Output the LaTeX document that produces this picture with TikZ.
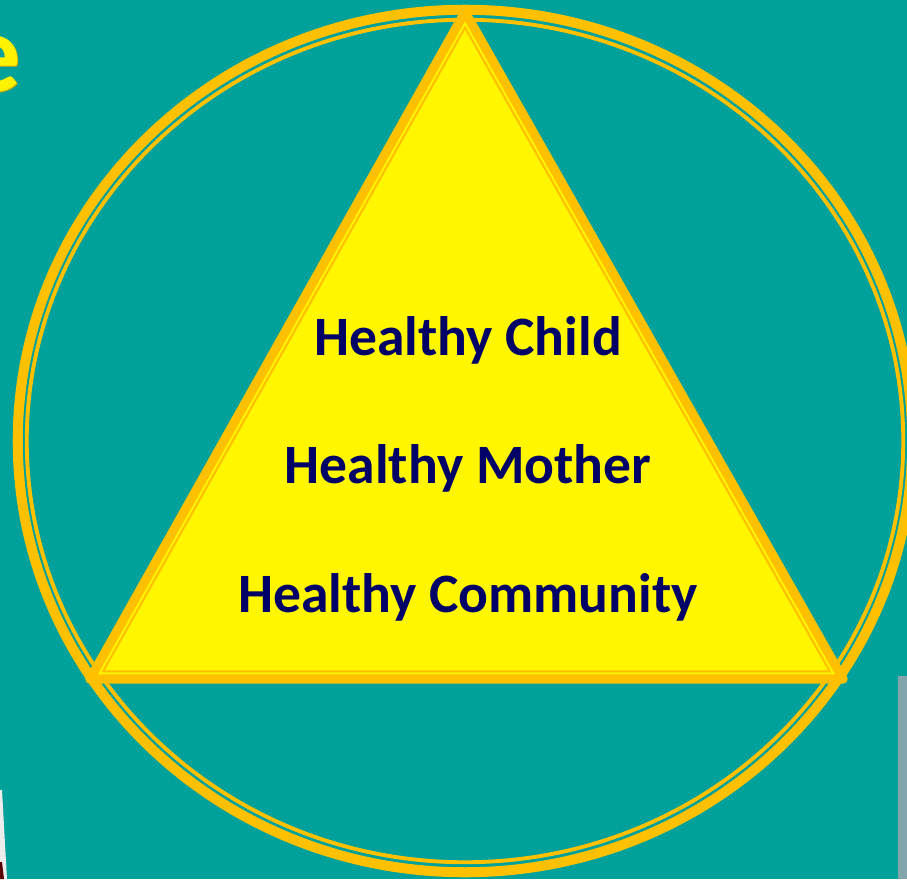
\documentclass[tikz,border=0pt]{standalone}
\usepackage{fontspec}
\setmainfont{Carlito}
\usetikzlibrary{calc}

\definecolor{bgteal}{RGB}{0,161,154}
\definecolor{gold}{RGB}{255,192,0}
\definecolor{lemon}{RGB}{255,246,0}
\definecolor{navy}{RGB}{0,0,102}
\definecolor{rimgrey}{RGB}{130,165,172}
\definecolor{shade}{RGB}{205,175,0}

\begin{document}
\begin{tikzpicture}[x=0.01cm, y=-0.01cm,
	ring/.style={draw=gold, line width=2.85pt},
	thinring/.style={draw=gold, line width=1.1pt},
	slogan/.style={font=\bfseries\fontsize{15.8pt}{18pt}\selectfont, text=navy, inner sep=0pt, anchor=base},
	headline/.style={font=\bfseries\fontsize{32pt}{36pt}\selectfont, inner sep=0pt, anchor=base east}]
	\fill[bgteal] (0,0) rectangle (907,879);
	\useasboundingbox (0,0) rectangle (907,879);

	% edges of the neighbouring slide parts
	\fill[white!85!gray] (0,790) -- (2,790) -- (7,879) -- (0,879) -- cycle;
	\fill[red!35!black] (0,862) -- (2,862) -- (4,879) -- (0,879) -- cycle;
	\fill[rimgrey] (898,676) rectangle (907,879);

	% last letter of the heading
	\node[headline, text=shade] (headshadow) at (23,92.5) {e};
	\node[headline, text=yellow] (head) at (22,91) {e};

	% outer double ring
	\draw[ring] (465,441) ellipse [x radius=4.47cm, y radius=4.31cm];
	\draw[thinring] (465,441) ellipse [x radius=4.38cm, y radius=4.21cm];

	% triangle
	\coordinate (apex) at (465,12);
	\coordinate (bl) at (90,679);
	\coordinate (br) at (843,679);
	\coordinate (inc) at (465,459);
	\draw[fill=lemon, draw=gold, line width=2.6pt, line join=round] (apex) -- (bl) -- (br) -- cycle;
	\draw[gold, line width=0.6pt] ($(inc)!0.965!(apex)$) -- ($(inc)!0.965!(bl)$) -- ($(inc)!0.965!(br)$) -- cycle;

	\node[slogan] (child) at (468,355) {Healthy Child};
	\node[slogan] (mother) at (468,483) {Healthy Mother};
	\node[slogan] (community) at (468,612) {Healthy Community};
\end{tikzpicture}
\end{document}
